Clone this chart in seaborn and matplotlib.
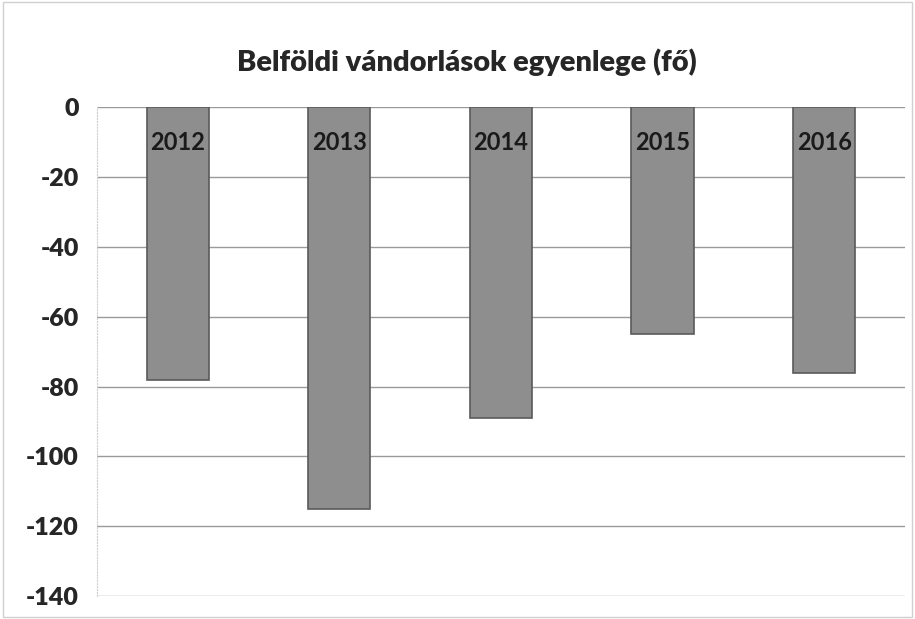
import matplotlib
matplotlib.use("Agg")
import matplotlib.pyplot as plt
import seaborn as sns
import pandas as pd

years = ["2012", "2013", "2014", "2015", "2016"]
balance = [-78, -115, -89, -65, -76]
yticks = [0, -20, -40, -60, -80, -100, -120, -140]

df = pd.DataFrame({"Év": years, "Egyenleg": balance})

sns.set_style("white")
plt.rcParams["font.family"] = ["Lato", "DejaVu Sans"]

fig = plt.figure(figsize=(9.15, 6.19), dpi=100)
ax = fig.add_axes([0.106, 0.037, 0.883, 0.79])

sns.barplot(data=df, x="Év", y="Egyenleg", color="#8e8e8e", width=0.385,
            edgecolor="#5a5a5a", linewidth=1.2, saturation=1, ax=ax, zorder=3)

# year labels inside the top of each bar
for i, yr in enumerate(years):
    ax.text(i, -10, yr, ha="center", va="center", fontsize=17,
            fontweight="bold", color="#1a1a1a", zorder=4)

ax.set_ylim(-140, 0)
ax.set_yticks(yticks)
ax.set_yticklabels([str(t) for t in yticks], fontsize=18, fontweight="heavy")
ax.set_xticks([])
ax.set_xlabel("")
ax.set_ylabel("")
ax.grid(axis="y", color="#9a9a9a", linewidth=1.0, zorder=0)
ax.tick_params(axis="y", length=0, pad=13)
for s in ["top", "right", "bottom"]:
    ax.spines[s].set_visible(False)
ax.spines["left"].set_color("#cfcfcf")
ax.spines["left"].set_linestyle(":")

fig.text(0.51, 0.9, "Belföldi vándorlások egyenlege (fő)", ha="center",
         va="center", fontsize=21, fontweight="heavy")

border = plt.Rectangle((0.003, 0.003), 0.994, 0.994, transform=fig.transFigure,
                       fill=False, edgecolor="#d0d0d0", linewidth=1)
fig.add_artist(border)

fig.savefig("out.png", dpi=100)
